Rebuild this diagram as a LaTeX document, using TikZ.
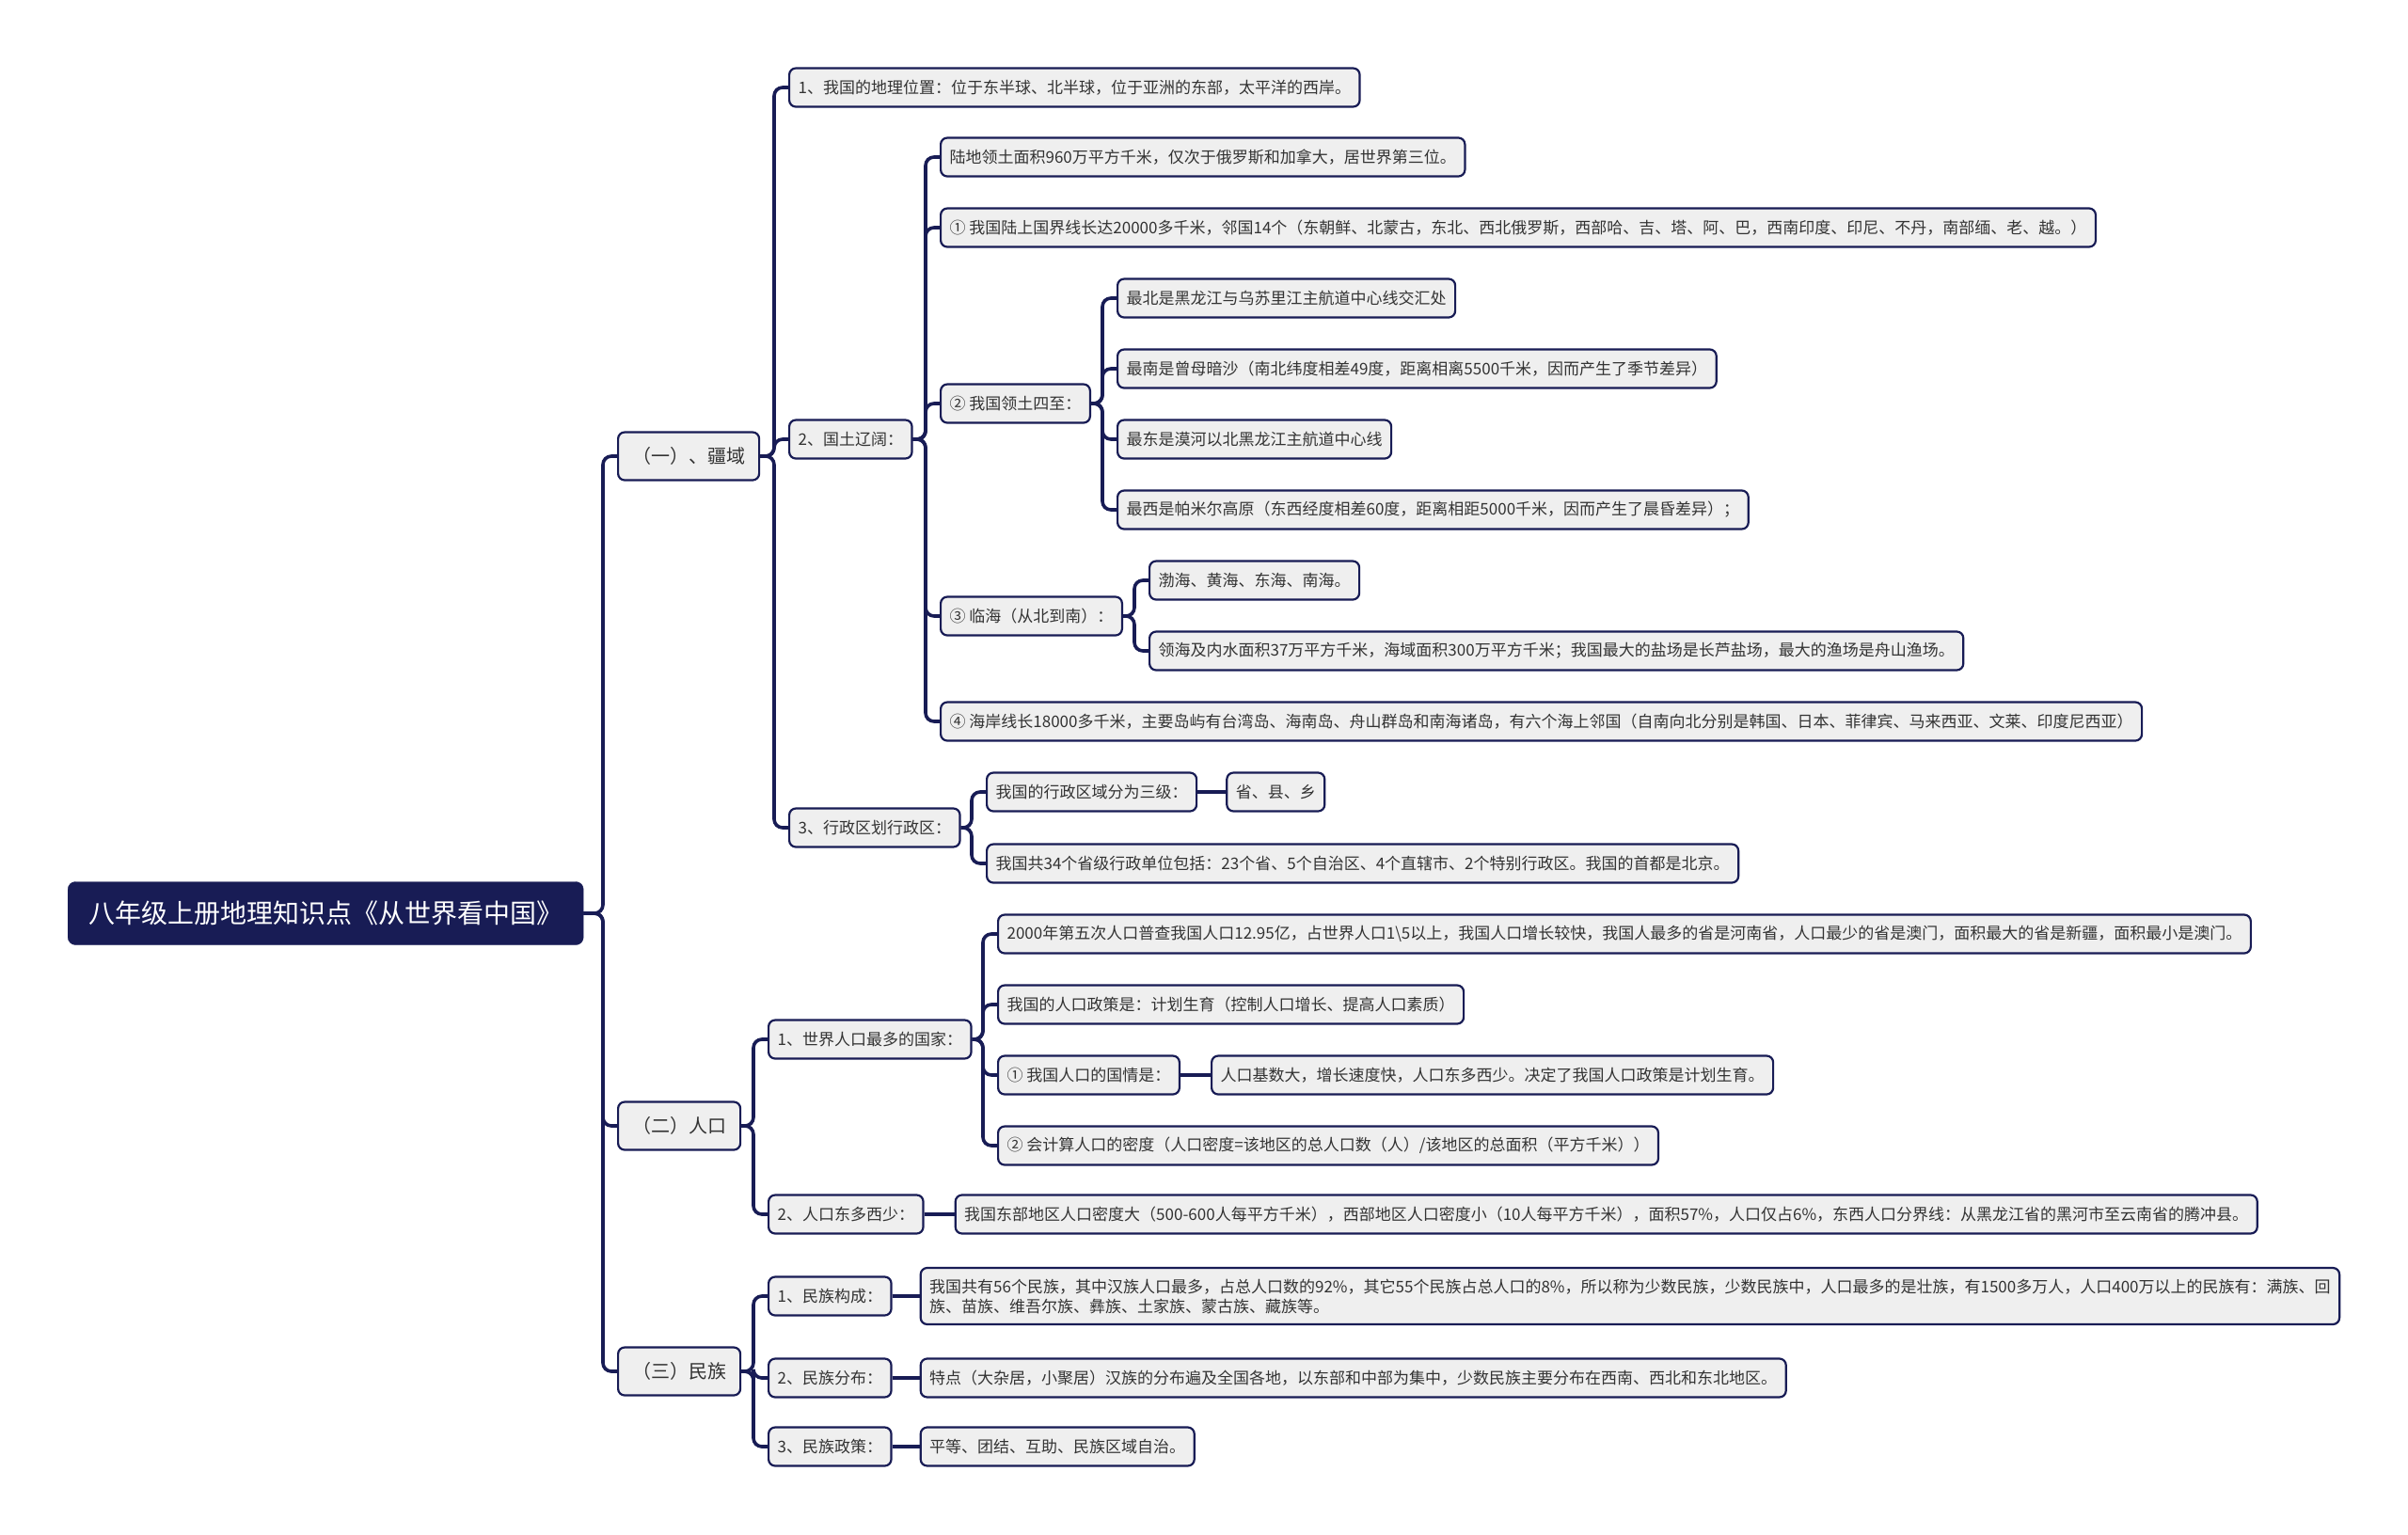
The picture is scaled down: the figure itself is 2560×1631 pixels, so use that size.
\documentclass[tikz,border=0pt]{standalone}
\usepackage{fontspec}
\setmainfont{Noto Sans CJK SC}
\usepackage{tikz}
\usetikzlibrary{positioning,calc}
\usepackage{xcolor}
\definecolor{navy}{HTML}{181C55}
\definecolor{boxfill}{HTML}{EFEFEF}
\definecolor{darktext}{HTML}{333333}

\begin{document}
\begin{tikzpicture}[x=1pt, y=-1pt,
  root/.style={rectangle, rounded corners=8pt, fill=navy, draw=navy, text=white, font=\fontsize{28}{32}\selectfont, minimum height=67pt, inner xsep=22pt, anchor=west},
  topic/.style={rectangle, rounded corners=7pt, draw=navy, line width=2.2pt, fill=boxfill, text=darktext, font=\fontsize{20}{24}\selectfont, minimum height=51pt, inner xsep=15pt, anchor=west},
  leaf/.style={rectangle, rounded corners=7pt, draw=navy, line width=2.2pt, fill=boxfill, text=darktext, font=\fontsize{17}{21}\selectfont, minimum height=41pt, inner xsep=9.5pt, anchor=west, align=left},
  link/.style={draw=navy, line width=3.6pt, rounded corners=9pt},
]
  \useasboundingbox (0,0) rectangle (2560,1631);

  \node[root] (root) at (72,971) {八年级上册地理知识点《从世界看中国》};
  \node[topic] (jiangyu) at (656,485) {（一）、疆域};
  \node[topic] (renkou) at (656,1197) {（二）人口};
  \node[topic] (minzu) at (656,1458) {（三）民族};

  \node[leaf] (jy1) at (838,93) {1、我国的地理位置：位于东半球、北半球，位于亚洲的东部，太平洋的西岸。};
  \node[leaf] (jy2) at (838,467) {2、国土辽阔：};
  \node[leaf] (jy3) at (838,880) {3、行政区划行政区：};

  \node[leaf] (jy2a) at (999,167) {陆地领土面积960万平方千米，仅次于俄罗斯和加拿大，居世界第三位。};
  \node[leaf] (jy2b) at (999,242) {① 我国陆上国界线长达20000多千米，邻国14个（东朝鲜、北蒙古，东北、西北俄罗斯，西部哈、吉、塔、阿、巴，西南印度、印尼、不丹，南部缅、老、越。）};
  \node[leaf] (jy2c) at (999,429) {② 我国领土四至：};
  \node[leaf] (jy2d) at (999,655) {③ 临海（从北到南）：};
  \node[leaf] (jy2e) at (999,767) {④ 海岸线长18000多千米，主要岛屿有台湾岛、海南岛、舟山群岛和南海诸岛，有六个海上邻国（自南向北分别是韩国、日本、菲律宾、马来西亚、文莱、印度尼西亚）};

  \node[leaf] (sizhi1) at (1187,317) {最北是黑龙江与乌苏里江主航道中心线交汇处};
  \node[leaf] (sizhi2) at (1187,392) {最南是曾母暗沙（南北纬度相差49度，距离相离5500千米，因而产生了季节差异）};
  \node[leaf] (sizhi3) at (1187,467) {最东是漠河以北黑龙江主航道中心线};
  \node[leaf] (sizhi4) at (1187,542) {最西是帕米尔高原（东西经度相差60度，距离相距5000千米，因而产生了晨昏差异）；};

  \node[leaf] (linhai1) at (1221,617) {渤海、黄海、东海、南海。};
  \node[leaf] (linhai2) at (1221,692) {领海及内水面积37万平方千米，海域面积300万平方千米；我国最大的盐场是长芦盐场，最大的渔场是舟山渔场。};

  \node[leaf] (jy3a) at (1048,842) {我国的行政区域分为三级：};
  \node[leaf, right=30pt of jy3a] (jy3a1) {省、县、乡};
  \node[leaf] (jy3b) at (1048,918) {我国共34个省级行政单位包括：23个省、5个自治区、4个直辖市、2个特别行政区。我国的首都是北京。};

  \node[leaf] (rk1) at (816,1105) {1、世界人口最多的国家：};
  \node[leaf] (rk2) at (816,1291) {2、人口东多西少：};
  \node[leaf] (rk1a) at (1060,993) {2000年第五次人口普查我国人口12.95亿，占世界人口1\textbackslash5以上，我国人口增长较快，我国人最多的省是河南省，人口最少的省是澳门，面积最大的省是新疆，面积最小是澳门。};
  \node[leaf] (rk1b) at (1060,1068) {我国的人口政策是：计划生育（控制人口增长、提高人口素质）};
  \node[leaf] (rk1c) at (1060,1143) {① 我国人口的国情是：};
  \node[leaf, right=32pt of rk1c] (rk1c1) {人口基数大，增长速度快，人口东多西少。决定了我国人口政策是计划生育。};
  \node[leaf] (rk1d) at (1060,1218) {② 会计算人口的密度（人口密度=该地区的总人口数（人）/该地区的总面积（平方千米））};
  \node[leaf, right=32pt of rk2] (rk2a) {我国东部地区人口密度大（500-600人每平方千米），西部地区人口密度小（10人每平方千米），面积57\%，人口仅占6\%，东西人口分界线：从黑龙江省的黑河市至云南省的腾冲县。};

  \node[leaf] (mz1) at (816,1378) {1、民族构成：};
  \node[leaf] (mz2) at (816,1465) {2、民族分布：};
  \node[leaf] (mz3) at (816,1538) {3、民族政策：};
  \node[leaf, right=29pt of mz1, minimum height=60pt] (mz1a) {我国共有56个民族，其中汉族人口最多，占总人口数的92\%，其它55个民族占总人口的8\%，所以称为少数民族，少数民族中，人口最多的是壮族，有1500多万人，人口400万以上的民族有：满族、回\\族、苗族、维吾尔族、彝族、土家族、蒙古族、藏族等。};
  \node[leaf, right=29pt of mz2] (mz2a) {特点（大杂居，小聚居）汉族的分布遍及全国各地，以东部和中部为集中，少数民族主要分布在西南、西北和东北地区。};
  \node[leaf, right=29pt of mz3] (mz3a) {平等、团结、互助、民族区域自治。};

  \foreach \p/\c in {root/jiangyu, root/renkou, root/minzu,
      jiangyu/jy1, jiangyu/jy2, jiangyu/jy3,
      jy2/jy2a, jy2/jy2b, jy2/jy2c, jy2/jy2d, jy2/jy2e,
      jy2c/sizhi1, jy2c/sizhi2, jy2c/sizhi3, jy2c/sizhi4,
      jy2d/linhai1, jy2d/linhai2, jy3/jy3a, jy3/jy3b,
      renkou/rk1, renkou/rk2, rk1/rk1a, rk1/rk1b, rk1/rk1c, rk1/rk1d,
      minzu/mz1, minzu/mz2, minzu/mz3}
    \draw[link] (\p.east) -| ([xshift=-15pt]\c.west) -- (\c.west);
  \foreach \p/\c in {jy3a/jy3a1, rk1c/rk1c1, rk2/rk2a, mz1/mz1a, mz2/mz2a, mz3/mz3a}
    \draw[link] (\p.east) -- (\c.west);
\end{tikzpicture}
\end{document}
